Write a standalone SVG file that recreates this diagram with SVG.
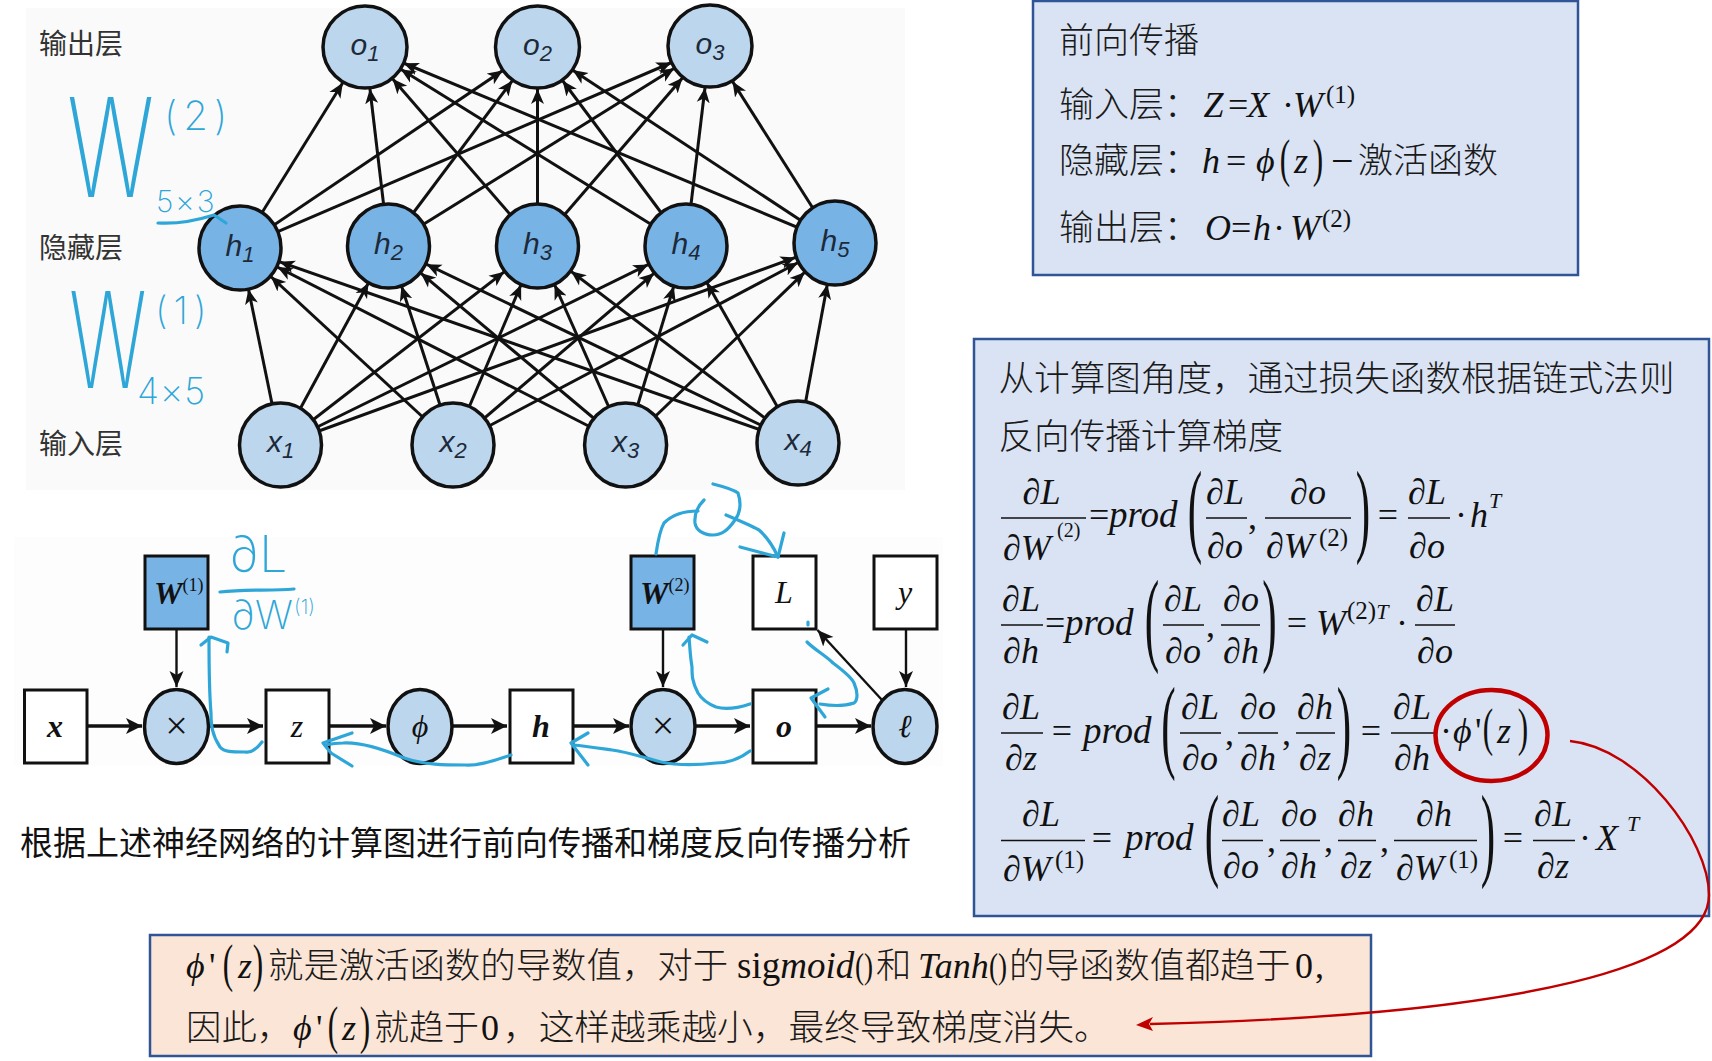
<svg xmlns="http://www.w3.org/2000/svg" width="1712" height="1061" viewBox="0 0 1712 1061">
<style>
text{fill:#111;font-family:"Liberation Serif","Noto Sans CJK SC",serif}
.cjk{font-family:"Noto Sans CJK SC",sans-serif;font-size:35.6px;font-weight:300;fill:#1a1a1a}
.lab{font-family:"Noto Sans CJK SC",sans-serif;font-size:28px;fill:#333}
.m{font-size:36px}.i{font-style:italic}.c{text-anchor:middle}
.p{font-size:37px}.sup{font-size:25px}.s2{font-size:22px}
.bp{font-size:103px}.mp{font-size:52px}
.fl{stroke:#111;stroke-width:1.6;fill:none}
.nl{font-family:"Liberation Sans",sans-serif;font-style:italic;font-size:30px;text-anchor:middle;fill:#1c2a3a}
.nl tspan{font-size:22px}
.nn{stroke:#111;stroke-width:3.5}
.in{fill:#bcd6ee}.hd{fill:#78b3e6}
.cn{stroke:#111;stroke-width:3;fill:none;marker-end:url(#nnh)}
.ga{stroke:#111;stroke-width:3.4;fill:none;marker-end:url(#gh)}
.gb{stroke:#111;stroke-width:2.4;fill:none;marker-end:url(#gh2)}
.gbox{fill:#fff;stroke:#111;stroke-width:3}
.gt{font-size:32px;font-weight:bold;font-style:italic;text-anchor:middle}
.gn{font-size:32px;font-style:italic;text-anchor:middle}
.ink{stroke:#2ea6d8;stroke-width:3.2;fill:none;stroke-linecap:round;stroke-linejoin:round}
.hw{fill:#2ea6d8;font-family:"Inter","Liberation Sans",sans-serif;font-weight:200}
.box{fill:#dae3f3;stroke:#2f5597;stroke-width:2.5}
</style>
<defs>
<marker id="nnh" markerUnits="userSpaceOnUse" viewBox="0 -7 60 14" markerWidth="60" markerHeight="14" refX="57" refY="0" orient="auto"><path d="M0,-6.5L15,0L0,6.5L4,0Z" fill="#111"/></marker>
<marker id="gh" markerUnits="userSpaceOnUse" viewBox="0 -9 18 18" markerWidth="18" markerHeight="18" refX="16" refY="0" orient="auto"><path d="M0,-8L16,0L0,8L4,0Z" fill="#111"/></marker>
<marker id="gh2" markerUnits="userSpaceOnUse" viewBox="0 -8 18 16" markerWidth="18" markerHeight="16" refX="16" refY="0" orient="auto"><path d="M0,-7L16,0L0,7L4,0Z" fill="#111"/></marker>
</defs>
<rect width="1712" height="1061" fill="#fff"/>
<rect x="26" y="8" width="879" height="482" fill="#fafafa"/>
<rect x="14" y="537" width="929" height="229" fill="#fdfdfd"/>

<g id="connectors">
<g id="nn-input-hidden">
<path class="cn" d="M280.5,445L240,248"/><path class="cn" d="M280.5,445L388.5,246"/><path class="cn" d="M280.5,445L537.5,246"/><path class="cn" d="M280.5,445L686,246"/><path class="cn" d="M280.5,445L835,243"/>
<path class="cn" d="M453,445L240,248"/><path class="cn" d="M453,445L388.5,246"/><path class="cn" d="M453,445L537.5,246"/><path class="cn" d="M453,445L686,246"/><path class="cn" d="M453,445L835,243"/>
<path class="cn" d="M625.6,445L240,248"/><path class="cn" d="M625.6,445L388.5,246"/><path class="cn" d="M625.6,445L537.5,246"/><path class="cn" d="M625.6,445L686,246"/><path class="cn" d="M625.6,445L835,243"/>
<path class="cn" d="M798,443L240,248"/><path class="cn" d="M798,443L388.5,246"/><path class="cn" d="M798,443L537.5,246"/><path class="cn" d="M798,443L686,246"/><path class="cn" d="M798,443L835,243"/>
</g>
<g id="nn-hidden-output">
<path class="cn" d="M240,248L365,47"/><path class="cn" d="M240,248L537.5,47"/><path class="cn" d="M240,248L710,46"/>
<path class="cn" d="M388.5,246L365,47"/><path class="cn" d="M388.5,246L537.5,47"/><path class="cn" d="M388.5,246L710,46"/>
<path class="cn" d="M537.5,246L365,47"/><path class="cn" d="M537.5,246L537.5,47"/><path class="cn" d="M537.5,246L710,46"/>
<path class="cn" d="M686,246L365,47"/><path class="cn" d="M686,246L537.5,47"/><path class="cn" d="M686,246L710,46"/>
<path class="cn" d="M835,243L365,47"/><path class="cn" d="M835,243L537.5,47"/><path class="cn" d="M835,243L710,46"/>
</g>
<g id="graph-edges">
<path class="ga" d="M87,726H142"/><path class="ga" d="M208,726H263"/><path class="ga" d="M329,726H386"/><path class="ga" d="M452,726H507"/><path class="ga" d="M573,726H629"/><path class="ga" d="M695,726H750"/><path class="ga" d="M816,726H871"/>
<path class="gb" d="M176.5,629V687"/><path class="gb" d="M663,629V687"/><path class="gb" d="M906,629V687"/><path class="gb" d="M882,700L817.5,630"/>
</g>
</g>

<g id="layer-labels">
<text class="lab" x="39" y="54">输出层</text>
<text class="lab" x="39" y="258">隐藏层</text>
<text class="lab" x="39" y="454">输入层</text>
</g>

<g id="o1"><ellipse class="nn in" cx="365" cy="47" rx="42" ry="41"/><text class="nl" x="365" y="55">o<tspan dy="6">1</tspan></text></g>
<g id="o2"><ellipse class="nn in" cx="537.5" cy="47" rx="42" ry="41"/><text class="nl" x="537.5" y="55">o<tspan dy="6">2</tspan></text></g>
<g id="o3"><ellipse class="nn in" cx="710" cy="46" rx="42" ry="41"/><text class="nl" x="710" y="54">o<tspan dy="6">3</tspan></text></g>
<g id="h1"><ellipse class="nn hd" cx="240" cy="248" rx="41" ry="42"/><text class="nl" x="240" y="256">h<tspan dy="6">1</tspan></text></g>
<g id="h2"><ellipse class="nn hd" cx="388.5" cy="246" rx="41" ry="42"/><text class="nl" x="388.5" y="254">h<tspan dy="6">2</tspan></text></g>
<g id="h3"><ellipse class="nn hd" cx="537.5" cy="246" rx="41" ry="42"/><text class="nl" x="537.5" y="254">h<tspan dy="6">3</tspan></text></g>
<g id="h4"><ellipse class="nn hd" cx="686" cy="246" rx="41" ry="42"/><text class="nl" x="686" y="254">h<tspan dy="6">4</tspan></text></g>
<g id="h5"><ellipse class="nn hd" cx="835" cy="243" rx="41" ry="42"/><text class="nl" x="835" y="251">h<tspan dy="6">5</tspan></text></g>
<g id="x1"><ellipse class="nn in" cx="280.5" cy="445" rx="41" ry="42"/><text class="nl" x="280.5" y="452">x<tspan dy="6">1</tspan></text></g>
<g id="x2"><ellipse class="nn in" cx="453" cy="445" rx="41" ry="42"/><text class="nl" x="453" y="452">x<tspan dy="6">2</tspan></text></g>
<g id="x3"><ellipse class="nn in" cx="625.6" cy="445" rx="41" ry="42"/><text class="nl" x="625.6" y="452">x<tspan dy="6">3</tspan></text></g>
<g id="x4"><ellipse class="nn in" cx="798" cy="443" rx="41" ry="42"/><text class="nl" x="798" y="450">x<tspan dy="6">4</tspan></text></g>

<g id="handwritten-labels">
<text class="hw" transform="translate(67,197) scale(.92,1.38)" font-size="100">W</text>
<text class="hw" x="164" y="130" font-size="40" letter-spacing="6">(2)</text>
<text class="hw" x="156" y="212" font-size="30" letter-spacing="2">5×3</text>
<path class="ink" d="M158,223C175,224 195,221 214,215L226,223"/>
<text class="hw" transform="translate(69,388) scale(.82,1.34)" font-size="100">W</text>
<text class="hw" x="155" y="324" font-size="38" letter-spacing="6">(1)</text>
<text class="hw" x="137" y="404" font-size="36" letter-spacing="1">4×5</text>
<text class="hw" x="229" y="572" font-size="50">∂L</text>
<path class="ink" d="M220,592C245,589 270,591 294,589"/>
<text class="hw" x="231" y="629" font-size="40">∂W</text>
<text class="hw" x="294" y="614" font-size="20">(1)</text>
</g>

<g id="node-x"><rect class="gbox" x="24.5" y="690" width="62.5" height="73"/><text class="gt" x="55" y="737">x</text></g>
<g id="node-times1"><ellipse class="nn in" cx="176.5" cy="726.5" rx="32" ry="37"/><text x="176.5" y="739" class="c" font-family="Liberation Sans" font-size="40">×</text></g>
<g id="node-z"><rect class="gbox" x="266" y="690" width="63" height="73"/><text class="gn" x="297" y="737">z</text></g>
<g id="node-phi"><ellipse class="nn in" cx="420" cy="726.5" rx="32" ry="37"/><text class="gn" x="420" y="737">ϕ</text></g>
<g id="node-h"><rect class="gbox" x="510" y="690" width="63" height="73"/><text class="gt" x="541" y="737">h</text></g>
<g id="node-times2"><ellipse class="nn in" cx="663" cy="726.5" rx="32" ry="37"/><text x="663" y="739" class="c" font-family="Liberation Sans" font-size="40">×</text></g>
<g id="node-o"><rect class="gbox" x="753" y="690" width="63" height="73"/><text class="gt" x="784" y="737">o</text></g>
<g id="node-ell"><ellipse class="nn in" cx="905" cy="726.5" rx="32" ry="37"/><text class="gn" x="905" y="737">ℓ</text></g>
<g id="node-W1"><rect class="hd" stroke="#111" stroke-width="3" x="145" y="556" width="63" height="73"/><text x="154" y="604" font-size="32" font-weight="bold" font-style="italic">W<tspan font-size="18" font-weight="normal" font-style="normal" dy="-13">(1)</tspan></text></g>
<g id="node-W2"><rect class="hd" stroke="#111" stroke-width="3" x="631" y="556" width="63" height="73"/><text x="640" y="604" font-size="32" font-weight="bold" font-style="italic">W<tspan font-size="18" font-weight="normal" font-style="normal" dy="-13">(2)</tspan></text></g>
<g id="node-L"><rect class="gbox" x="753" y="556" width="63" height="73"/><text class="gn" x="784" y="603">L</text></g>
<g id="node-y"><rect class="gbox" x="874" y="556" width="63" height="73"/><text class="gn" x="905" y="603">y</text></g>

<g id="gradient-ink">
<path class="ink" d="M262,742C256,750 250,753 245,752C232,752 224,752 220,747C212,735 211,725 211,713C209,690 209,660 209,637"/>
<path class="ink" d="M201,645L211,637L228,643L227,652"/>
<path class="ink" d="M511,755C495,760 480,766 465,765C445,765 425,765 404,758C385,750 360,742 343,743C335,743 330,744 325,745"/>
<path class="ink" d="M352,733L323,743L331,753L352,766"/>
<path class="ink" d="M750,751C742,757 730,763 716,763C698,765 680,766 661,762C645,758 628,752 612,750C598,748 585,746 573,745"/>
<path class="ink" d="M588,733L571,743L588,765"/>
<path class="ink" d="M750,704C738,708 726,710 716,707C706,703 701,698 698,693C692,682 692,675 692,667C690,655 690,648 689,637"/>
<path class="ink" d="M683,645L692,635L707,642"/>
<path class="ink" d="M808,622L808,625M807,642C815,650 825,655 833,663C845,672 852,678 854,683C858,692 858,700 854,703C845,706 832,706 820,704"/>
<path class="ink" d="M828,689L811,698L825,717"/>
<path class="ink" d="M656,554C658,540 660,530 664,523C672,515 685,511 698,511"/>
<path class="ink" d="M713,484C725,487 734,490 738,493C742,505 740,513 735,520C728,530 722,535 713,535C703,535 696,530 695,523C694,513 699,505 704,500"/>
<path class="ink" d="M726,515C738,520 750,525 759,530C768,538 774,548 778,557"/>
<path class="ink" d="M740,547L778,557L784,533"/>
</g>

<g id="caption"><text x="20" y="855" font-size="33" style="font-family:'Noto Sans CJK SC',sans-serif;fill:#111">根据上述神经网络的计算图进行前向传播和梯度反向传播分析</text></g>

<g id="forward-box">
<rect class="box" x="1033" y="1" width="545" height="274"/>
<text class="cjk" x="1059" y="53" style="font-size:35px">前向传播</text>
<text class="cjk" x="1059" y="117" style="font-size:35px">输入层：</text>
<text class="m i" x="1203.6" y="117">Z</text><text class="m" x="1228" y="117">=</text><text class="m i" x="1247" y="117">X</text><text class="m" x="1282" y="117">·</text><text class="m i" x="1293" y="117">W</text><text class="sup" x="1326" y="103">(1)</text>
<text class="cjk" x="1059" y="173" style="font-size:35px">隐藏层：</text>
<text class="m i" x="1202" y="173">h</text><text class="m" x="1226" y="173">=</text><text class="m i" x="1256" y="173">ϕ</text>
<text class="mp c" transform="translate(1285,176) scale(.6,1)">(</text><text class="m i" x="1294" y="173">z</text><text class="mp c" transform="translate(1318,176) scale(.6,1)">)</text>
<text x="1331" y="174" font-size="40">−</text>
<text class="cjk" x="1358" y="173" style="font-size:35px">激活函数</text>
<text class="cjk" x="1059" y="240" style="font-size:35px">输出层：</text>
<text class="m i" x="1205" y="240">O</text><text class="m" x="1231" y="240">=</text><text class="m i" x="1253" y="240">h</text><text class="m" x="1273" y="240">·</text><text class="m i" x="1290" y="240">W</text><text class="sup" x="1322" y="227">(2)</text>
</g>

<g id="backward-box">
<rect class="box" x="974" y="339" width="735" height="577"/>
<text class="cjk" x="998.5" y="391">从计算图角度，通过损失函数根据链式法则</text>
<text class="cjk" x="998.5" y="449">反向传播计算梯度</text>

<g id="eq1">
<path class="fl" d="M1001,518H1086M1206,518H1247M1265,518H1351M1408,518H1450"/>
<text class="m i c" x="1041.5" y="504">∂L</text><text class="m i" x="1003" y="560">∂W</text><text font-size="20" x="1057" y="537">(2)</text>
<text class="m" x="1089" y="527">=</text><text class="p i" x="1109" y="527">prod</text>
<text class="bp c" transform="translate(1195,543) scale(.42,1)">(</text>
<text class="m i c" x="1225" y="504">∂L</text><text class="m i c" x="1225" y="558">∂o</text><text class="m" x="1248" y="529">,</text>
<text class="m i c" x="1308" y="504">∂o</text><text class="m i" x="1266" y="558">∂W</text><text class="sup" x="1319" y="546">(2)</text>
<text class="bp c" transform="translate(1363,543) scale(.42,1)">)</text>
<text class="m c" x="1388" y="527">=</text>
<text class="m i c" x="1427" y="504">∂L</text><text class="m i c" x="1427" y="558">∂o</text>
<text class="m c" x="1461" y="527">·</text><text class="m i" x="1470" y="527">h</text><text class="s2 i" x="1489" y="508">T</text>
</g>

<g id="eq2">
<path class="fl" d="M1001,625H1043M1163,625H1204M1221,625H1260M1415,625H1455"/>
<text class="m i c" x="1021" y="611">∂L</text><text class="m i c" x="1021" y="663">∂h</text>
<text class="m" x="1045" y="635">=</text><text class="p i" x="1065" y="635">prod</text>
<text class="bp c" transform="translate(1152,652) scale(.42,1)">(</text>
<text class="m i c" x="1183" y="611">∂L</text><text class="m i c" x="1183" y="663">∂o</text><text class="m" x="1206" y="637">,</text>
<text class="m i c" x="1241" y="611">∂o</text><text class="m i c" x="1241" y="663">∂h</text>
<text class="bp c" transform="translate(1269.5,652) scale(.42,1)">)</text>
<text class="m c" x="1297" y="635">=</text>
<text class="m i" x="1316" y="635">W</text><text class="sup" x="1347" y="619">(2)<tspan class="i" font-size="22">T</tspan></text>
<text class="m c" x="1402" y="635">·</text>
<text class="m i c" x="1435" y="611">∂L</text><text class="m i c" x="1435" y="663">∂o</text>
</g>

<g id="eq3">
<path class="fl" d="M1001,733H1043M1180,733H1221M1238,733H1278M1296,733H1335M1391,733H1435"/>
<text class="m i c" x="1021" y="719">∂L</text><text class="m i c" x="1021" y="770">∂z</text>
<text class="m c" x="1062" y="743">=</text><text class="p i" x="1083" y="743">prod</text>
<text class="bp c" transform="translate(1168.5,759) scale(.42,1)">(</text>
<text class="m i c" x="1200" y="719">∂L</text><text class="m i c" x="1200" y="770">∂o</text><text class="m" x="1225" y="745">,</text>
<text class="m i c" x="1258" y="719">∂o</text><text class="m i c" x="1258" y="770">∂h</text><text class="m" x="1282" y="745">,</text>
<text class="m i c" x="1315" y="719">∂h</text><text class="m i c" x="1315" y="770">∂z</text>
<text class="bp c" transform="translate(1344,759) scale(.42,1)">)</text>
<text class="m c" x="1371" y="743">=</text>
<text class="m i c" x="1412" y="719">∂L</text><text class="m i c" x="1412" y="770">∂h</text>
<text class="m" x="1440" y="743">·</text><text class="m i" x="1453" y="743">ϕ</text><text class="m" x="1475" y="743">'</text>
<text class="mp c" transform="translate(1488,745) scale(.6,1)">(</text><text class="m i" x="1497" y="743">z</text><text class="mp c" transform="translate(1523,745) scale(.6,1)">)</text>
<ellipse cx="1491.5" cy="735.5" rx="56" ry="45.5" fill="none" stroke="#c00000" stroke-width="4.5"/>
</g>

<g id="eq4">
<path class="fl" d="M1001,840.5H1085M1222,840.5H1263M1280,840.5H1320M1338,840.5H1376M1394,840.5H1477M1533,840.5H1575"/>
<text class="m i c" x="1041" y="826">∂L</text><text class="m i" x="1003" y="881">∂W</text><text class="sup" x="1055" y="868">(1)</text>
<text class="m c" x="1102" y="850">=</text><text class="p i" x="1125" y="850">prod</text>
<text class="bp c" transform="translate(1212,867) scale(.42,1)">(</text>
<text class="m i c" x="1241" y="826">∂L</text><text class="m i c" x="1241" y="878">∂o</text><text class="m" x="1267" y="852">,</text>
<text class="m i c" x="1299" y="826">∂o</text><text class="m i c" x="1299" y="878">∂h</text><text class="m" x="1324" y="852">,</text>
<text class="m i c" x="1356" y="826">∂h</text><text class="m i c" x="1356" y="878">∂z</text><text class="m" x="1380" y="852">,</text>
<text class="m i c" x="1434" y="826">∂h</text><text class="m i" x="1396" y="880">∂W</text><text class="sup" x="1449" y="868">(1)</text>
<text class="bp c" transform="translate(1488,867) scale(.42,1)">)</text>
<text class="m c" x="1513" y="850">=</text>
<text class="m i c" x="1553" y="826">∂L</text><text class="m i c" x="1553" y="878">∂z</text>
<text class="m c" x="1585" y="850">·</text><text class="m i" x="1596" y="850">X</text><text class="s2 i" x="1627" y="831">T</text>
</g>
</g>

<g id="note-box">
<rect x="150" y="935" width="1221" height="121" fill="#fbe5d6" stroke="#2f5597" stroke-width="2.5"/>
<text class="m i" x="186" y="978">ϕ</text><text class="m" x="209" y="978">'</text>
<text class="mp c" transform="translate(228,981) scale(.6,1)">(</text><text class="m i" x="238" y="978">z</text><text class="mp c" transform="translate(258,981) scale(.6,1)">)</text>
<text class="cjk" x="268" y="978" style="font-size:35.4px">就是激活函数的导数值，对于</text>
<text x="737" y="978" font-size="37">sig<tspan font-style="italic">moid</tspan></text><text class="m" x="855" y="978" textLength="18" lengthAdjust="spacingAndGlyphs">()</text>
<text class="cjk" x="876" y="978" style="font-size:35.4px">和</text>
<text class="m i" x="918" y="978">Tanh</text><text class="m" x="989" y="978" textLength="18" lengthAdjust="spacingAndGlyphs">()</text>
<text class="cjk" x="1009" y="978" style="font-size:35.2px">的导函数值都趋于</text>
<text class="m" x="1295" y="978">0</text><text class="m" x="1315" y="978">,</text>
<text class="cjk" x="186" y="1040" style="font-size:35.4px">因此，</text>
<text class="m i" x="293" y="1040">ϕ</text><text class="m" x="316" y="1040">'</text>
<text class="mp c" transform="translate(333,1043) scale(.6,1)">(</text><text class="m i" x="342" y="1040">z</text><text class="mp c" transform="translate(365,1043) scale(.6,1)">)</text>
<text class="cjk" x="374" y="1040" style="font-size:35px">就趋于</text>
<text class="m" x="481" y="1040">0</text>
<text class="cjk" x="503" y="1040" style="font-size:35.7px">，这样越乘越小，最终导致梯度消失。</text>
</g>

<g id="red-link"><path d="M1570,741C1640,748 1709,840 1709,895C1709,965 1530,1015 1150,1024" fill="none" stroke="#c00000" stroke-width="2.4"/><path d="M1136,1025L1153,1017L1149,1024L1153,1031Z" fill="#c00000"/></g>
</svg>
